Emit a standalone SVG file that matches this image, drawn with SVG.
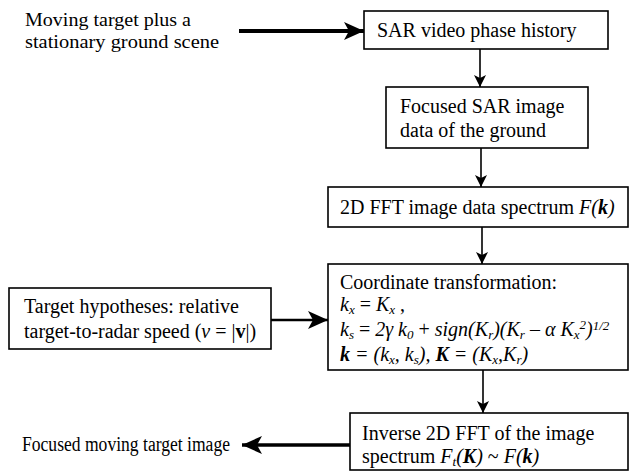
<svg xmlns="http://www.w3.org/2000/svg" width="630" height="471" viewBox="0 0 630 471" font-family="'Liberation Serif', 'DejaVu Serif', serif">
<style>
text{font-family:'Liberation Serif','DejaVu Serif',serif;font-size:20px;fill:#000}
.lbl{font-size:19px}
.box{fill:#fff;stroke:#000;stroke-width:1.6}
.i{font-style:italic}
.b{font-weight:bold;font-style:italic}
.sb{font-size:13px;font-style:italic}
.con{stroke:#000;fill:none}
</style>
<defs>
<marker id="ah" markerUnits="userSpaceOnUse" markerWidth="14" markerHeight="14" refX="12" refY="6" orient="auto">
<path d="M0,0 L12,6 L0,12 L3,6 z" fill="#000"/>
</marker>
<marker id="ahb" markerUnits="userSpaceOnUse" markerWidth="22" markerHeight="20" refX="20" refY="9" orient="auto">
<path d="M0,0 L20,9 L0,18 L5,9 z" fill="#000"/>
</marker>
</defs>
<g id="connectors">
<line class="con" x1="239" y1="31" x2="364" y2="31" stroke-width="4" marker-end="url(#ahb)"/>
<line class="con" x1="480" y1="49" x2="480" y2="87" stroke-width="1.6" marker-end="url(#ah)"/>
<line class="con" x1="481" y1="148" x2="481" y2="187" stroke-width="1.6" marker-end="url(#ah)"/>
<line class="con" x1="482" y1="227" x2="482" y2="264" stroke-width="1.6" marker-end="url(#ah)"/>
<line class="con" x1="271" y1="320" x2="328" y2="320" stroke-width="2.5" marker-end="url(#ahb)"/>
<line class="con" x1="483" y1="370" x2="483" y2="413" stroke-width="1.6" marker-end="url(#ah)"/>
<line class="con" x1="350" y1="445" x2="242" y2="445" stroke-width="3.5" marker-end="url(#ahb)"/>
</g>
<g id="input">
<text class="lbl" x="25" y="26" textLength="166" lengthAdjust="spacingAndGlyphs">Moving target plus a</text>
<text class="lbl" x="25" y="48" textLength="194" lengthAdjust="spacingAndGlyphs">stationary ground scene</text>
</g>
<g id="phase-history">
<rect class="box" x="364" y="11" width="244" height="38"/>
<text x="377" y="37">SAR video phase history</text>
</g>
<g id="focused-sar">
<rect class="box" x="386" y="87" width="202" height="61"/>
<text x="400" y="113">Focused SAR image</text>
<text x="400" y="137">data of the ground</text>
</g>
<g id="fft">
<rect class="box" x="328" y="187" width="300" height="40"/>
<text x="340" y="214">2D FFT image data spectrum <tspan class="i">F(</tspan><tspan class="b">k</tspan><tspan class="i">)</tspan></text>
</g>
<g id="hypotheses">
<rect class="box" x="9" y="288" width="262" height="61"/>
<text x="24" y="313">Target hypotheses: relative</text>
<text x="24" y="338">target-to-radar speed (<tspan class="i">v</tspan> = |<tspan font-weight="bold">v</tspan>|)</text>
</g>
<g id="transform">
<rect class="box" x="328" y="264" width="300" height="106"/>
<text x="340" y="289">Coordinate transformation:</text>
<text x="340" y="311"><tspan class="i">k</tspan><tspan class="sb" dy="3">x</tspan><tspan dy="-3"> = </tspan><tspan class="i">K</tspan><tspan class="sb" dy="3">x</tspan><tspan dy="-3"> ,</tspan></text>
<text x="340" y="336"><tspan class="i">k</tspan><tspan class="sb" dy="3">s</tspan><tspan dy="-3"> = </tspan><tspan class="i">2γ k</tspan><tspan class="sb" dy="3">0</tspan><tspan dy="-3"> + </tspan><tspan class="i">sign(K</tspan><tspan class="sb" dy="3">r</tspan><tspan class="i" dy="-3">)(K</tspan><tspan class="sb" dy="3">r</tspan><tspan dy="-3"> – </tspan><tspan class="i">α K</tspan><tspan class="sb" dy="3">x</tspan><tspan class="sb" dy="-10">2</tspan><tspan class="i" dy="7">)</tspan><tspan class="sb" dy="-6">1/2</tspan></text>
<text x="340" y="361"><tspan class="b">k</tspan><tspan class="i"> = (k</tspan><tspan class="sb" dy="3">x</tspan><tspan class="i" dy="-3">, k</tspan><tspan class="sb" dy="3">s</tspan><tspan class="i" dy="-3">),  </tspan><tspan class="b">K</tspan><tspan class="i"> = (K</tspan><tspan class="sb" dy="3">x</tspan><tspan class="i" dy="-3">,K</tspan><tspan class="sb" dy="3">r</tspan><tspan class="i" dy="-3">)</tspan></text>
</g>
<g id="inverse-fft">
<rect class="box" x="350" y="413" width="278" height="57"/>
<text x="362" y="440">Inverse 2D FFT of the image</text>
<text x="362" y="463">spectrum <tspan class="i">F</tspan><tspan class="sb" dy="3">t</tspan><tspan class="i" dy="-3">(</tspan><tspan class="b">K</tspan><tspan class="i">)</tspan> ~ <tspan class="i">F(</tspan><tspan class="b">k</tspan><tspan class="i">)</tspan></text>
</g>
<g id="output">
<text x="22" y="451" font-size="17.5" textLength="208" lengthAdjust="spacingAndGlyphs">Focused moving target image</text>
</g>
</svg>
